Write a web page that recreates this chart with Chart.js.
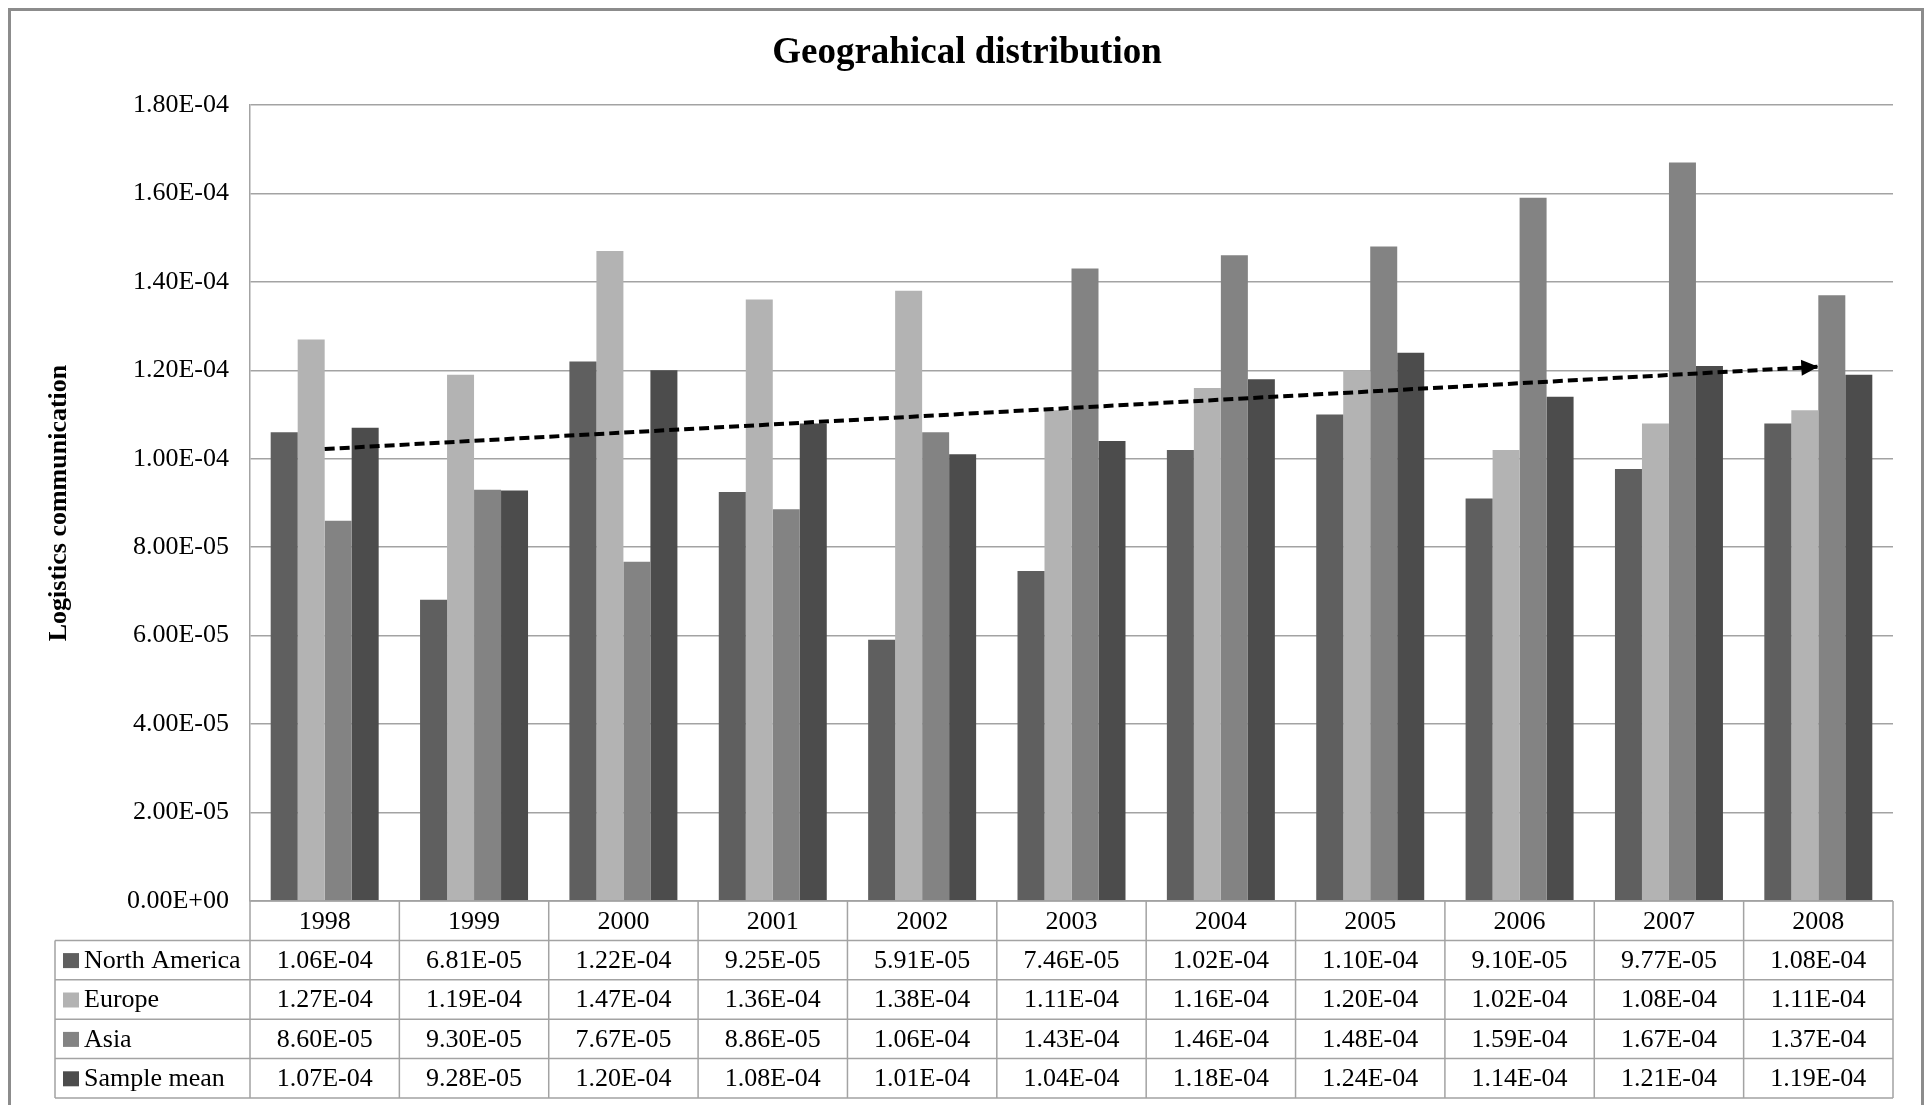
<!DOCTYPE html>
<html>
<head>
<meta charset="utf-8">
<script src="https://cdn.jsdelivr.net/npm/chart.js@4/dist/chart.umd.min.js"></script>
<style>
  html, body { margin: 0; padding: 0; background: #ffffff; }
  canvas { display: block; }
</style>
</head>
<body>
<canvas id="chart" width="1927" height="1105"></canvas>
<script>
// Years on the category axis
const years = ['1998', '1999', '2000', '2001', '2002', '2003', '2004', '2005', '2006', '2007', '2008'];

// Series values (logistics communication intensity)
const northAmerica = [1.06e-4, 6.81e-5, 1.22e-4, 9.25e-5, 5.91e-5, 7.46e-5, 1.02e-4, 1.10e-4, 9.10e-5, 9.77e-5, 1.08e-4];
const europe       = [1.27e-4, 1.19e-4, 1.47e-4, 1.36e-4, 1.38e-4, 1.11e-4, 1.16e-4, 1.20e-4, 1.02e-4, 1.08e-4, 1.11e-4];
const asia         = [8.60e-5, 9.30e-5, 7.67e-5, 8.86e-5, 1.06e-4, 1.43e-4, 1.46e-4, 1.48e-4, 1.59e-4, 1.67e-4, 1.37e-4];
const sampleMean   = [1.07e-4, 9.28e-5, 1.20e-4, 1.08e-4, 1.01e-4, 1.04e-4, 1.18e-4, 1.24e-4, 1.14e-4, 1.21e-4, 1.19e-4];

// Trend arrow end points
const trendYears  = ['1998', '2008'];
const trendValues = [1.022e-4, 1.208e-4];

// Value axis tick labels
const yTickLabels = ['0.00E+00', '2.00E-05', '4.00E-05', '6.00E-05', '8.00E-05',
                     '1.00E-04', '1.20E-04', '1.40E-04', '1.60E-04', '1.80E-04'];

const seriesNames  = ['North America', 'Europe', 'Asia', 'Sample mean'];
const seriesValues = [northAmerica, europe, asia, sampleMean];
const seriesColors = ['#5f5f5f', '#b3b3b3', '#838383', '#4c4c4c'];

const SERIF = '"Liberation Serif", "Times New Roman", serif';
const LINE_GRAY = '#a3a3a3';

function sci(v) {
  const parts = v.toExponential(2).split('e');
  const n = parseInt(parts[1], 10);
  return parts[0] + 'E' + (n < 0 ? '-' : '+') + String(Math.abs(n)).padStart(2, '0');
}

// Frame and title
const framePlugin = {
  id: 'frame',
  beforeDraw(chart) {
    const ctx = chart.ctx;
    ctx.save();
    ctx.fillStyle = '#ffffff';
    ctx.fillRect(0, 0, chart.width, chart.height);
    ctx.restore();
  },
  afterDraw(chart) {
    const ctx = chart.ctx;
    ctx.save();
    ctx.strokeStyle = '#8c8c8c';
    ctx.lineWidth = 3;
    ctx.beginPath();
    ctx.moveTo(9.5, chart.height + 5);
    ctx.lineTo(9.5, 9.5);
    ctx.lineTo(1922.5, 9.5);
    ctx.lineTo(1922.5, chart.height + 5);
    ctx.stroke();

    ctx.fillStyle = '#000000';
    ctx.font = 'bold 37px ' + SERIF;
    ctx.textAlign = 'center';
    ctx.textBaseline = 'alphabetic';
    ctx.fillText('Geograhical distribution', 967, 63);
    ctx.restore();
  }
};

// Arrowhead at the end of the trend line
const arrowPlugin = {
  id: 'trendArrow',
  afterDatasetsDraw(chart) {
    const meta = chart.getDatasetMeta(0);
    const pts = meta.data;
    if (!pts || pts.length < 2) return;
    const a = pts[pts.length - 2], b = pts[pts.length - 1];
    const ang = Math.atan2(b.y - a.y, b.x - a.x);
    const len = 17, half = 8;
    const ctx = chart.ctx;
    ctx.save();
    ctx.fillStyle = '#000000';
    ctx.translate(b.x, b.y);
    ctx.rotate(ang);
    ctx.beginPath();
    ctx.moveTo(0, 0);
    ctx.lineTo(-len, -half);
    ctx.lineTo(-len, half);
    ctx.closePath();
    ctx.fill();
    ctx.restore();
  }
};

// Data table under the plot: year row plus one row per series
const tablePlugin = {
  id: 'dataTable',
  afterDraw(chart) {
    const ctx = chart.ctx;
    const area = chart.chartArea;
    const xs = chart.scales.x;
    const colW = xs.getPixelForValue(1) - xs.getPixelForValue(0);
    const top = area.bottom;
    const rowH = 39.4;
    const tableLeft = 55;
    const nRows = seriesNames.length + 1;
    const bottom = top + rowH * nRows;

    ctx.save();
    ctx.strokeStyle = LINE_GRAY;
    ctx.lineWidth = 1.5;
    ctx.beginPath();
    // horizontal rules
    ctx.moveTo(area.left, top);
    ctx.lineTo(area.right, top);
    for (let r = 1; r <= nRows; r++) {
      const y = top + r * rowH;
      ctx.moveTo(tableLeft, y);
      ctx.lineTo(area.right, y);
    }
    // vertical rules
    ctx.moveTo(tableLeft, top + rowH);
    ctx.lineTo(tableLeft, bottom);
    for (let i = 0; i <= years.length; i++) {
      const x = xs.getPixelForValue(0) - colW / 2 + i * colW;
      ctx.moveTo(x, top);
      ctx.lineTo(x, bottom);
    }
    ctx.stroke();

    ctx.fillStyle = '#000000';
    ctx.font = '26px ' + SERIF;
    ctx.textBaseline = 'middle';
    ctx.textAlign = 'center';
    years.forEach((yr, i) => {
      ctx.fillText(yr, xs.getPixelForValue(i), top + rowH / 2 + 1);
    });
    seriesNames.forEach((name, r) => {
      const cy = top + (r + 1) * rowH + rowH / 2 + 1;
      ctx.fillStyle = seriesColors[r];
      ctx.fillRect(63, cy - 8, 16, 15);
      ctx.fillStyle = '#000000';
      ctx.textAlign = 'left';
      ctx.fillText(name, 84, cy);
      ctx.textAlign = 'center';
      seriesValues[r].forEach((v, i) => {
        ctx.fillText(sci(v), xs.getPixelForValue(i), cy);
      });
    });
    ctx.restore();
  }
};

const datasets = [{
  type: 'line',
  label: 'Trend',
  data: trendYears.map((yr, i) => ({ x: yr, y: trendValues[i] })),
  borderColor: '#000000',
  borderWidth: 4,
  borderDash: [10, 5],
  borderCapStyle: 'butt',
  pointRadius: 0,
  fill: false,
  tension: 0,
  order: 0
}];
seriesNames.forEach((name, i) => {
  datasets.push({
    label: name,
    data: seriesValues[i],
    backgroundColor: seriesColors[i],
    borderWidth: 0,
    order: 1
  });
});

new Chart(document.getElementById('chart').getContext('2d'), {
  type: 'bar',
  data: { labels: years, datasets: datasets },
  options: {
    responsive: false,
    devicePixelRatio: 1,
    animation: false,
    events: [],
    layout: { padding: { left: 0, top: 105, right: 34, bottom: 204 } },
    plugins: {
      legend: { display: false },
      tooltip: { enabled: false },
      title: { display: false }
    },
    datasets: { bar: { categoryPercentage: 0.723, barPercentage: 1.0 } },
    scales: {
      x: { display: false },
      y: {
        min: 0,
        max: 1.8e-4,
        ticks: {
          stepSize: 2e-5,
          padding: 21,
          color: '#000000',
          font: { family: SERIF, size: 26 },
          callback: (v, i) => yTickLabels[i]
        },
        grid: { color: LINE_GRAY, lineWidth: 1.5, drawTicks: false },
        border: { color: LINE_GRAY, width: 1.5 },
        title: {
          display: true,
          text: 'Logistics communication',
          color: '#000000',
          font: { family: SERIF, size: 26, weight: 'bold' },
          padding: { top: 44, bottom: 0 }
        },
        afterFit(scale) { scale.width = 250; }
      }
    }
  },
  plugins: [framePlugin, arrowPlugin, tablePlugin]
});
</script>
</body>
</html>
